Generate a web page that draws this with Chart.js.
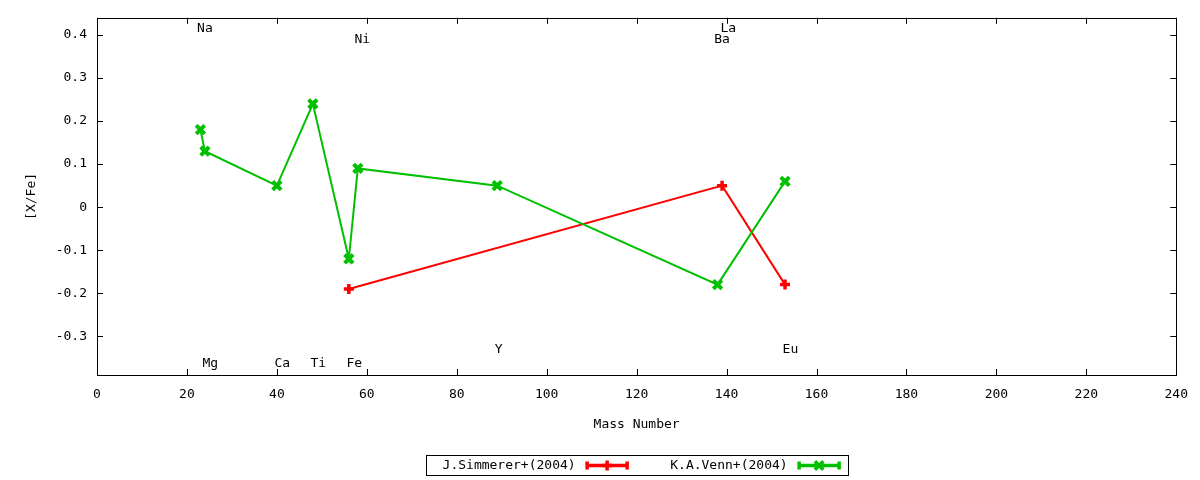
<!DOCTYPE html>
<html>
<head>
<meta charset="utf-8">
<script src="https://cdn.jsdelivr.net/npm/chart.js@4.4.1/dist/chart.umd.min.js"></script>
<style>
  html, body { margin: 0; padding: 0; background: #fff; }
  #wrap { width: 1200px; height: 480px; }
</style>
</head>
<body>
<div id="wrap"><canvas id="abund"></canvas></div>
<script>
// mass numbers and [X/Fe]
var simmererMass = [56, 139, 153];
var simmererXFe  = [-0.19, 0.05, -0.18];

var vennMass = [23, 24, 40, 48, 56, 58, 89, 138, 153];
var vennXFe  = [0.18, 0.13, 0.05, 0.24, -0.12, 0.09, 0.05, -0.18, 0.06];

// element name labels, in data coordinates
var elemNames = ["Na", "Ni", "La", "Ba", "Mg", "Ca", "Ti", "Fe", "Y", "Eu"];
var elemX     = [24, 59, 140.4, 139, 25.2, 41.2, 49.2, 57.2, 89.3, 154.2];
var elemY     = [0.414, 0.39, 0.414, 0.39, -0.363, -0.363, -0.363, -0.363, -0.331, -0.331];

var xTicks = [0, 20, 40, 60, 80, 100, 120, 140, 160, 180, 200, 220, 240];
var yTicks = [-0.3, -0.2, -0.1, 0, 0.1, 0.2, 0.3, 0.4];

var FONT = "'DejaVu Sans Mono', monospace";

function pts(xs, ys) {
    return xs.map(function (x, i) { return { x: x, y: ys[i] }; });
}

// gnuplot style frame with inward ticks on all sides
var framePlugin = {
    id: 'frame',
    afterDatasetsDraw: function (chart) {
        var ctx = chart.ctx, a = chart.chartArea;
        var xs = chart.scales.x, ys = chart.scales.y;
        ctx.save();
        ctx.strokeStyle = '#000';
        ctx.lineWidth = 1;
        ctx.beginPath();
        xTicks.forEach(function (v) {
            var px = Math.round(xs.getPixelForValue(v)) + 0.5;
            ctx.moveTo(px, a.bottom); ctx.lineTo(px, a.bottom - 6);
            ctx.moveTo(px, a.top); ctx.lineTo(px, a.top + 6);
        });
        yTicks.forEach(function (v) {
            var py = Math.round(ys.getPixelForValue(v)) + 0.5;
            ctx.moveTo(a.left, py); ctx.lineTo(a.left + 6, py);
            ctx.moveTo(a.right, py); ctx.lineTo(a.right - 6, py);
        });
        ctx.stroke();
        ctx.strokeRect(Math.round(a.left) + 0.5, Math.round(a.top) + 0.5,
                       Math.round(a.right - a.left), Math.round(a.bottom - a.top));

        // element labels
        ctx.fillStyle = '#000';
        ctx.font = '13px ' + FONT;
        ctx.textAlign = 'center';
        ctx.textBaseline = 'middle';
        elemNames.forEach(function (n, i) {
            ctx.fillText(n, xs.getPixelForValue(elemX[i]), ys.getPixelForValue(elemY[i]));
        });
        ctx.restore();
    },
    afterDraw: function (chart) {
        // legend box: text first, then sample line with marker
        var ctx = chart.ctx, a = chart.chartArea;
        var cx = (a.left + a.right) / 2;
        var top = chart.height - 25, h = 20, w = 422;
        var left = cx - w / 2;
        ctx.save();
        ctx.strokeStyle = '#000';
        ctx.lineWidth = 1;
        ctx.strokeRect(Math.round(left) + 0.5, top + 0.5, w, h);
        ctx.font = '13px ' + FONT;
        ctx.textAlign = 'right';
        ctx.textBaseline = 'middle';
        var mid = top + h / 2 + 0.5;
        var entries = [[150, chart.data.datasets[0]], [362, chart.data.datasets[1]]];
        entries.forEach(function (e) {
            var ds = e[1], tx = left + e[0];
            ctx.fillStyle = '#000';
            ctx.fillText(ds.label, tx, mid);
            var x0 = tx + 10, x1 = tx + 53;
            ctx.strokeStyle = ds.borderColor;
            ctx.lineWidth = 3.5;
            ctx.beginPath();
            ctx.moveTo(x0, mid); ctx.lineTo(x1, mid);
            ctx.moveTo(x0 + 1.5, mid - 4); ctx.lineTo(x0 + 1.5, mid + 4);
            ctx.moveTo(x1 - 1.5, mid - 4); ctx.lineTo(x1 - 1.5, mid + 4);
            ctx.stroke();
            Chart.helpers.drawPoint(ctx, {
                pointStyle: ds.pointStyle, radius: ds.pointRadius,
                borderWidth: ds.pointBorderWidth, rotation: 0
            }, (x0 + x1) / 2, mid);
        });
        ctx.restore();
    }
};

new Chart(document.getElementById('abund'), {
    type: 'line',
    data: {
        datasets: [{
            label: 'J.Simmerer+(2004)',
            data: pts(simmererMass, simmererXFe),
            borderColor: '#ff0000',
            backgroundColor: '#ff0000',
            borderWidth: 2,
            pointStyle: 'cross',
            pointRadius: 5,
            pointBorderWidth: 3.5,
            pointHoverRadius: 5,
            tension: 0,
            order: 2
        }, {
            label: 'K.A.Venn+(2004)',
            data: pts(vennMass, vennXFe),
            borderColor: '#00c000',
            backgroundColor: '#00c000',
            borderWidth: 2,
            pointStyle: 'crossRot',
            pointRadius: 6,
            pointBorderWidth: 4,
            pointHoverRadius: 6,
            tension: 0,
            order: 1
        }]
    },
    options: {
        responsive: true,
        maintainAspectRatio: false,
        animation: false,
        layout: { padding: { left: 20, right: 22, top: 17, bottom: 45 } },
        plugins: {
            legend: { display: false },
            tooltip: { enabled: false }
        },
        scales: {
            x: {
                type: 'linear',
                min: 0,
                max: 240,
                afterBuildTicks: function (s) { s.ticks = xTicks.map(function (v) { return { value: v }; }); },
                afterFit: function (s) { s.height = 60; },
                grid: { display: false, drawTicks: false },
                border: { display: false },
                ticks: { color: '#000', font: { family: FONT, size: 13 }, padding: 12, maxRotation: 0 },
                title: { display: true, text: 'Mass Number', color: '#000',
                         font: { family: FONT, size: 13 }, padding: { top: 0, bottom: 3 } }
            },
            y: {
                type: 'linear',
                min: -0.39,
                max: 0.44,
                afterBuildTicks: function (s) { s.ticks = yTicks.map(function (v) { return { value: v }; }); },
                afterFit: function (s) { s.width = 77; },
                grid: { display: false, drawTicks: false },
                border: { display: false },
                ticks: {
                    color: '#000', font: { family: FONT, size: 13 }, padding: 10,
                    callback: function (v) { return String(Math.round(v * 10) / 10); }
                },
                title: { display: true, text: '[X/Fe]', color: '#000',
                         font: { family: FONT, size: 13 }, padding: { top: 4, bottom: 0 } }
            }
        }
    },
    plugins: [framePlugin]
});
</script>
</body>
</html>
